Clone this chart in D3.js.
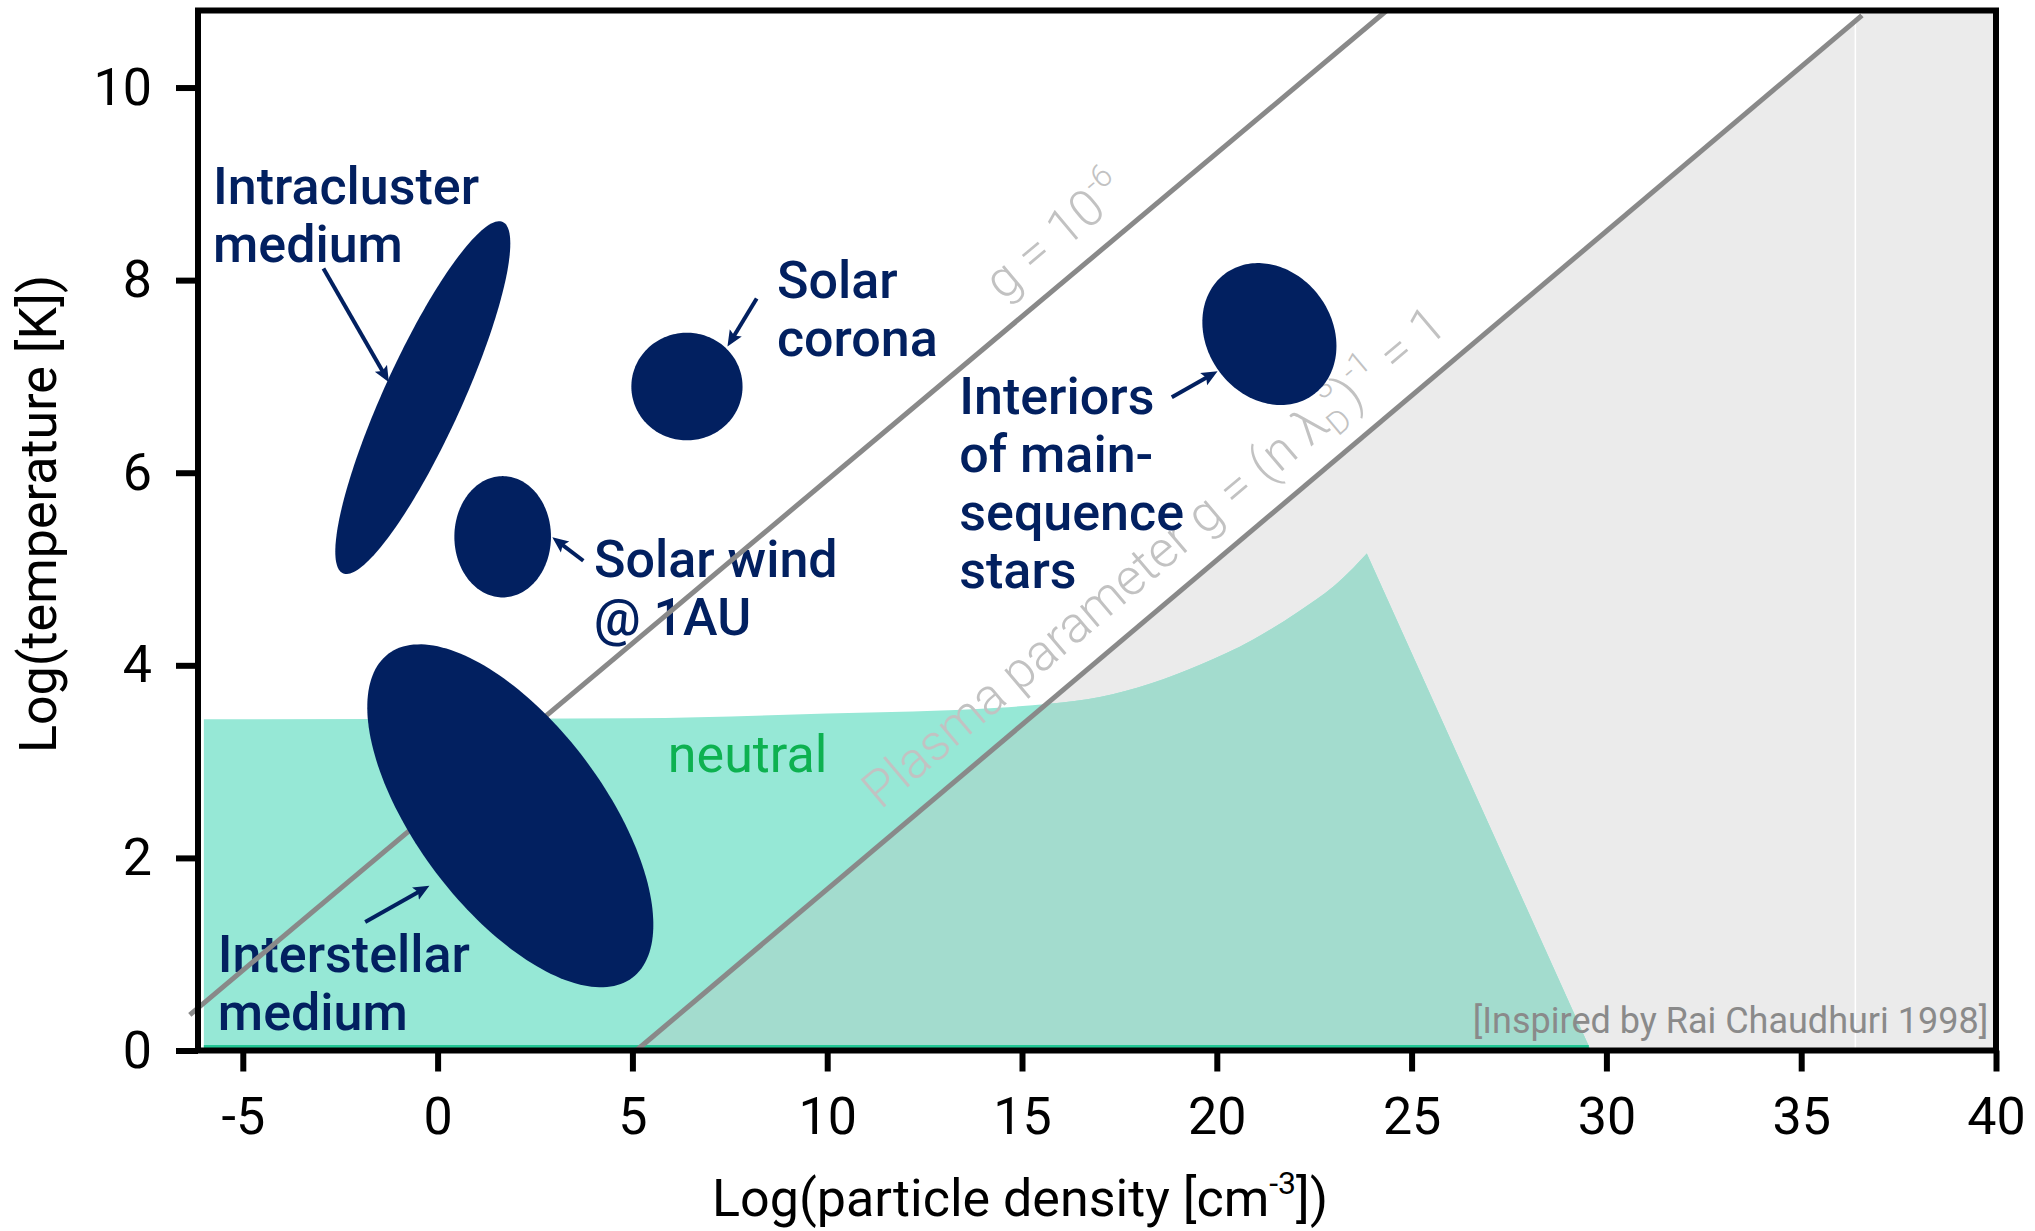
<!DOCTYPE html>
<html>
<head>
<meta charset="utf-8">
<script src="https://cdn.jsdelivr.net/npm/d3@7"></script>
<style>
    body { margin: 0; background: #fff; }
    svg text { font-family: Roboto, "Noto Sans", sans-serif; }
</style>
</head>
<body>
<div id="chart"></div>
<script>
// axes
const xDomain = [-6.15, 40];
const yDomain = [0, 10.8];
const xTicks = [-5, 0, 5, 10, 15, 20, 25, 30, 35, 40];
const yTicks = [0, 2, 4, 6, 8, 10];

// outline of the neutral (non-ionised) region, log n vs log T
const neutralX = [-6, 5, 10, 14.4, 15.7, 17.0, 18.3, 19.6, 20.9, 22.1, 23.0, 23.5, 23.85];
const neutralY = [3.44, 3.45, 3.5, 3.56, 3.60, 3.67, 3.81, 4.01, 4.26, 4.56, 4.82, 5.01, 5.16];
const neutralEndX = 29.6;

// plasma parameter lines (end points)
const gLineX = [[-6.36, 24.36], [5.1, 36.56]];
const gLineY = [[0.37, 10.8], [0, 10.75]];
const degenerateX = 36.39;

// plasma regions: centre + two semi-axis vectors, all in data units
const regionCx = [-0.38, 1.67, 6.40, 21.35, 1.866];
const regionCy = [6.78, 5.335, 6.895, 7.44, 2.437];
const regionU = [[2.053, 1.824], [1.24, 0], [1.427, 0], [1.117, -0.633], [3.131, -1.682]];
const regionV = [[0.911, -0.168], [0, 0.63], [0, 0.559], [-1.309, -0.377], [-1.917, -0.585]];

// region labels
const labelLines = [["Intracluster", "medium"], ["Solar", "corona"], ["Solar wind", "@ 1AU"],
    ["Interiors", "of main-", "sequence", "stars"], ["Interstellar", "medium"]];
const labelX = [-5.765, 8.71, 4.014, 13.39, -5.64];
const labelY = [8.795, 7.81, 4.914, 6.613, 0.813];

// arrows: [from, to]
const arrowFrom = [[-2.93, 8.12], [8.19, 7.81], [3.74, 5.086], [18.845, 6.784], [-1.858, 1.335]];
const arrowTo = [[-1.25, 6.94], [7.44, 7.31], [2.944, 5.329], [20.02, 7.054], [-0.21, 1.711]];

const navy = "#022060";

let svg = d3.select("#chart").append("svg")
    .attr("width", 2035)
    .attr("height", 1231);

let x = d3.scaleLinear().domain(xDomain).range([198, 1996]);
let y = d3.scaleLinear().domain(yDomain).range([1050.5, 10.5]);

let defs = svg.append("defs");
defs.append("clipPath").attr("id", "plotclip")
    .append("rect")
    .attr("x", x(xDomain[0])).attr("y", y(yDomain[1]))
    .attr("width", x(xDomain[1]) - x(xDomain[0]))
    .attr("height", y(yDomain[0]) - y(yDomain[1]));

let area = d3.line().x(d => x(d[0])).y(d => y(d[1])).curve(d3.curveLinearClosed);

// grey region beyond g = 1
let grayPts = [[gLineX[1][0], gLineY[1][0]], [gLineX[1][1], gLineY[1][1]],
    [gLineX[1][1], yDomain[1]], [xDomain[1], yDomain[1]], [xDomain[1], 0]];
defs.append("clipPath").attr("id", "grayclip")
    .append("path").attr("d", area(grayPts));

let plot = svg.append("g").attr("clip-path", "url(#plotclip)");

plot.append("path")
    .attr("d", area(grayPts))
    .attr("fill", "#ebebeb");

plot.append("line")
    .attr("x1", x(degenerateX)).attr("x2", x(degenerateX))
    .attr("y1", y(yDomain[1])).attr("y2", y(0))
    .attr("stroke", "#fff").attr("stroke-width", 1.5);

// neutral region: smooth top edge, straight falling edge
let topEdge = d3.line().x(d => x(d[0])).y(d => y(d[1])).curve(d3.curveMonotoneX);
let neutralPath = topEdge(neutralX.map((d, i) => [d, neutralY[i]]))
    + `L${x(neutralEndX)},${y(0)}L${x(neutralX[0])},${y(0)}Z`;

plot.append("path")
    .attr("d", neutralPath)
    .attr("fill", "#96e8d6");

plot.append("g").attr("clip-path", "url(#grayclip)")
    .append("path")
    .attr("d", neutralPath)
    .attr("fill", "#a3dcce");

plot.append("line")
    .attr("x1", x(neutralX[0])).attr("x2", x(neutralEndX) - 2)
    .attr("y1", y(0) - 4).attr("y2", y(0) - 4)
    .attr("stroke", "#22c795").attr("stroke-width", 3);

// labels along the g lines
function lineLabel(i, atX, offset, build) {
    let x0 = x(gLineX[i][0]), y0 = y(gLineY[i][0]);
    let x1 = x(gLineX[i][1]), y1 = y(gLineY[i][1]);
    let ang = Math.atan2(y1 - y0, x1 - x0) * 180 / Math.PI;
    let t = (atX - gLineX[i][0]) / (gLineX[i][1] - gLineX[i][0]);
    let px = x0 + t * (x1 - x0), py = y0 + t * (y1 - y0);
    let txt = svg.append("text")
        .attr("transform", `translate(${px},${py}) rotate(${ang})`)
        .attr("y", -offset)
        .attr("fill", "#c2c2c2")
        .attr("font-size", 51)
        .attr("font-weight", 300);
    build(txt);
}

lineLabel(0, 14.9, 24, t => {
    t.append("tspan").text("g = 10");
    t.append("tspan").attr("font-size", 32).attr("dy", -22).text("-6");
});

lineLabel(1, 11.8, 26, t => {
    t.append("tspan").text("Plasma parameter g = (n λ");
    t.append("tspan").attr("font-size", 32).attr("dy", 10).text("D");
    t.append("tspan").attr("font-size", 32).attr("dx", -10).attr("dy", -38).text("3");
    t.append("tspan").attr("dy", 28).text(")");
    t.append("tspan").attr("font-size", 32).attr("dy", -22).text("-1");
    t.append("tspan").attr("dy", 22).text(" = 1");
});

// region labels
labelLines.forEach((lines, i) => {
    let txt = svg.append("text")
        .attr("x", x(labelX[i]))
        .attr("y", y(labelY[i]))
        .attr("fill", navy)
        .attr("font-size", 52)
        .attr("font-weight", 500);
    lines.forEach((l, j) => {
        txt.append("tspan")
            .attr("x", x(labelX[i]))
            .attr("dy", j === 0 ? 0 : 58)
            .text(l);
    });
});

svg.append("text")
    .attr("x", x(5.91)).attr("y", y(2.89))
    .attr("fill", "#0db150")
    .attr("font-size", 52)
    .text("neutral");

// g lines
gLineX.forEach((xs, i) => {
    svg.append("line")
        .attr("x1", x(xs[0])).attr("y1", y(gLineY[i][0]))
        .attr("x2", x(xs[1])).attr("y2", y(gLineY[i][1]))
        .attr("stroke", "#898989")
        .attr("stroke-width", 5);
});

// plasma regions
let ellipseLine = d3.line().x(d => x(d[0])).y(d => y(d[1])).curve(d3.curveLinearClosed);
regionCx.forEach((cx, i) => {
    let pts = d3.range(0, 2 * Math.PI, Math.PI / 90).map(t => [
        cx + regionU[i][0] * Math.cos(t) + regionV[i][0] * Math.sin(t),
        regionCy[i] + regionU[i][1] * Math.cos(t) + regionV[i][1] * Math.sin(t)
    ]);
    svg.append("path")
        .attr("d", ellipseLine(pts))
        .attr("fill", navy);
});

// arrows
defs.append("marker")
    .attr("id", "head")
    .attr("markerUnits", "userSpaceOnUse")
    .attr("markerWidth", 20).attr("markerHeight", 20)
    .attr("refX", 10).attr("refY", 8)
    .attr("orient", "auto")
    .append("path")
    .attr("d", "M0,1 L16,8 L0,15 L3,8 Z")
    .attr("fill", navy);

arrowFrom.forEach((f, i) => {
    let x0 = x(f[0]), y0 = y(f[1]);
    let x1 = x(arrowTo[i][0]), y1 = y(arrowTo[i][1]);
    let len = Math.hypot(x1 - x0, y1 - y0);
    let k = (len - 6) / len;
    svg.append("line")
        .attr("x1", x0).attr("y1", y0)
        .attr("x2", x0 + (x1 - x0) * k).attr("y2", y0 + (y1 - y0) * k)
        .attr("stroke", navy)
        .attr("stroke-width", 4)
        .attr("marker-end", "url(#head)");
});

// frame and axes
svg.append("rect")
    .attr("x", x(xDomain[0])).attr("y", y(yDomain[1]))
    .attr("width", x(xDomain[1]) - x(xDomain[0]))
    .attr("height", y(yDomain[0]) - y(yDomain[1]))
    .attr("fill", "none")
    .attr("stroke", "#000")
    .attr("stroke-width", 6);

let fmt = d => d < 0 ? "-" + (-d) : String(d);

let xAxis = svg.append("g")
    .attr("transform", `translate(0,${y(0)})`)
    .call(d3.axisBottom(x).tickValues(xTicks).tickFormat(fmt).tickSize(21).tickSizeOuter(0));
let yAxis = svg.append("g")
    .attr("transform", `translate(${x(xDomain[0])},0)`)
    .call(d3.axisLeft(y).tickValues(yTicks).tickFormat(fmt).tickSize(22).tickSizeOuter(0).tickPadding(24));

[xAxis, yAxis].forEach(a => {
    a.select(".domain").remove();
    a.selectAll(".tick line").attr("stroke", "#000").attr("stroke-width", 6);
    a.selectAll(".tick text")
        .attr("fill", "#000")
        .attr("font-size", 52)
        .attr("font-family", "Roboto, 'Noto Sans', sans-serif");
});
xAxis.selectAll(".tick text").attr("y", 83).attr("dy", 0);

// axis titles
let xTitle = svg.append("text")
    .attr("x", 1020).attr("y", 1216)
    .attr("text-anchor", "middle")
    .attr("font-size", 52)
    .attr("fill", "#000");
xTitle.append("tspan").text("Log(particle density [cm");
xTitle.append("tspan").attr("font-size", 32).attr("dy", -22).text("-3");
xTitle.append("tspan").attr("dy", 22).text("])");

svg.append("text")
    .attr("transform", "translate(56,514) rotate(-90)")
    .attr("text-anchor", "middle")
    .attr("font-size", 52)
    .attr("fill", "#000")
    .text("Log(temperature [K])");

svg.append("text")
    .attr("x", x(39.8)).attr("y", y(0.186))
    .attr("text-anchor", "end")
    .attr("font-size", 36)
    .attr("fill", "#8a8a8a")
    .text("[Inspired by Rai Chaudhuri 1998]");
</script>
</body>
</html>
